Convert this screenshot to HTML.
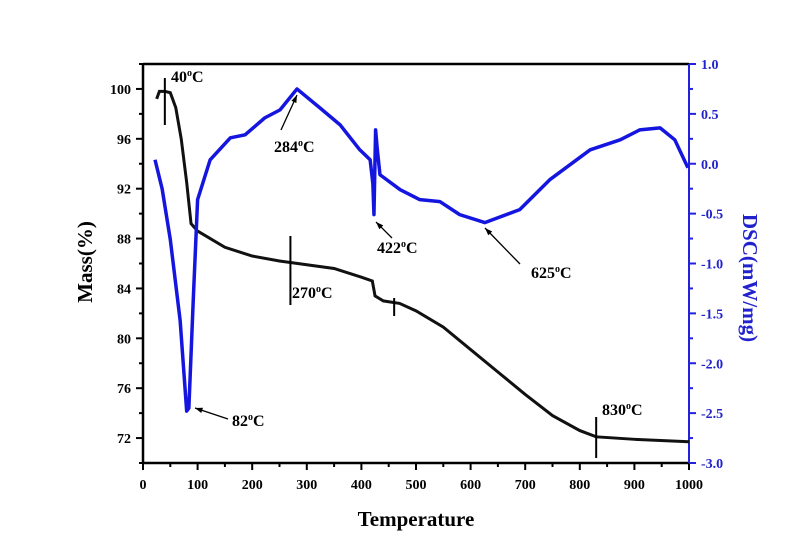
<!DOCTYPE html>
<html><head><meta charset="utf-8"><style>
body{margin:0;background:#fff}
svg text{font-family:"Liberation Serif",serif;font-weight:bold}
</style></head><body>
<svg width="800" height="555">
<g id="ax"></g><g id="marks"></g><g id="ann"></g>
</svg>
<script>
const xTicks=[0,100,200,300,400,500,600,700,800,900,1000];
const massTicks=[72,76,80,84,88,92,96,100];
const dscTicks=[-3.0,-2.5,-2.0,-1.5,-1.0,-0.5,0.0,0.5,1.0];
const massTemp=[25,30,40,50,60,70,80,88,100,150,200,250,300,350,400,420,425,440,470,500,550,600,650,700,750,800,830,900,1000];
const massVal=[99.2,99.8,99.8,99.7,98.5,96,92.5,89.2,88.6,87.3,86.6,86.2,85.9,85.6,84.9,84.6,83.4,83,82.8,82.2,80.9,79.1,77.3,75.5,73.8,72.6,72.1,71.9,71.7];
const dscTemp=[22,35,50,68,80,84,92,100,123,160,187,223,251,282,324,361,397,416,421,423,426,429,434,471,507,544,580,626,690,745,819,874,910,947,974,998];
const dscVal=[0.04,-0.25,-0.76,-1.57,-2.48,-2.45,-1.37,-0.36,0.04,0.26,0.29,0.46,0.54,0.75,0.56,0.39,0.14,0.04,-0.2,-0.51,0.34,0.15,-0.11,-0.26,-0.36,-0.38,-0.51,-0.59,-0.46,-0.16,0.14,0.24,0.34,0.36,0.24,-0.04];
const L=143,R=689,T=64,B=463;
const X=t=>L+(t)/1000*(R-L);
const YM=m=>B-(m-70)/32*(B-T);
const YD=d=>B-(d+3)/4*(B-T);
const NS="http://www.w3.org/2000/svg";
function mk(p,tag,a){const e=document.createElementNS(NS,tag);for(const k in a)e.setAttribute(k,a[k]);p.appendChild(e);return e;}
const ax=document.getElementById('ax'),mg=document.getElementById('marks'),an=document.getElementById('ann');
let e;
e=mk(ax,'line',{x1:L,y1:T,x2:R,y2:T,stroke:'#000','stroke-width':2.5});

e=mk(ax,'line',{x1:L,y1:T,x2:L,y2:B,stroke:'#000','stroke-width':2.5});

e=mk(ax,'line',{x1:L,y1:B,x2:R,y2:B,stroke:'#000','stroke-width':2.5});

e=mk(ax,'line',{x1:R,y1:T,x2:R,y2:B,stroke:'#2222dd','stroke-width':2});

xTicks.forEach((t,i)=>{
 mk(ax,'line',{x1:X(t),y1:B,x2:X(t),y2:B+7,stroke:'#000','stroke-width':2});
 if(i<xTicks.length-1)mk(ax,'line',{x1:X(t+50),y1:B,x2:X(t+50),y2:B+4,stroke:'#000','stroke-width':2});
 e=mk(ax,'text',{x:X(t),y:B+26,'text-anchor':'middle','font-size':14});e.textContent=t;
 
});
massTicks.forEach(m=>{
 mk(ax,'line',{x1:L-7,y1:YM(m),x2:L,y2:YM(m),stroke:'#000','stroke-width':2});
 mk(ax,'line',{x1:L-4,y1:YM(m+2),x2:L,y2:YM(m+2),stroke:'#000','stroke-width':2});
 e=mk(ax,'text',{x:L-12,y:YM(m)+5,'text-anchor':'end','font-size':14});e.textContent=m;
 
});
mk(ax,'line',{x1:L-4,y1:YM(70),x2:L,y2:YM(70),stroke:'#000','stroke-width':2});
dscTicks.forEach((d,i)=>{
 mk(ax,'line',{x1:R,y1:YD(d),x2:R+7,y2:YD(d),stroke:'#2222dd','stroke-width':2});
 if(i<dscTicks.length-1)mk(ax,'line',{x1:R,y1:YD(d+0.25),x2:R+4,y2:YD(d+0.25),stroke:'#2222dd','stroke-width':2});
 e=mk(ax,'text',{x:R+12,y:YD(d)+5,'font-size':14,fill:'#2222cc'});e.textContent=d.toFixed(1);
 
});
e=mk(ax,'text',{x:416,y:526,'text-anchor':'middle','font-size':21});e.textContent='Temperature';

e=mk(ax,'text',{x:0,y:0,'text-anchor':'middle','font-size':21,transform:'translate(92,262) rotate(-90)'});e.textContent='Mass(%)';

e=mk(ax,'text',{x:0,y:0,'text-anchor':'middle','font-size':21,fill:'#2222cc',transform:'translate(743,278) rotate(90)'});e.textContent='DSC(mW/mg)';

e=mk(mg,'polyline',{points:massTemp.map((t,i)=>X(t)+','+YM(massVal[i])).join(' '),fill:'none',stroke:'#111','stroke-width':3});

e=mk(mg,'polyline',{points:dscTemp.map((t,i)=>X(t)+','+YD(dscVal[i])).join(' '),fill:'none',stroke:'#1515e0','stroke-width':3.5,'stroke-linejoin':'round'});

// annotations
const vlines=[[40,78,125],[270,236,305],[460,298,316],[830,417,458]];
vlines.forEach(v=>{e=mk(an,'line',{x1:X(v[0]),y1:v[1],x2:X(v[0]),y2:v[2],stroke:'#000','stroke-width':2});
 });
function lab(x,y,s){e=mk(an,'text',{x:x,y:y,'font-size':16});
 e.innerHTML=s+'<tspan dy="-6" font-size="10">o</tspan><tspan dy="6">C</tspan>';
 }
lab(171,82,'40');lab(274,152,'284');lab(292,298,'270');lab(377,253,'422');lab(531,278,'625');lab(232,426,'82');lab(602,415,'830');
function arr(x1,y1,x2,y2){e=mk(an,'line',{x1:x1,y1:y1,x2:x2,y2:y2,stroke:'#000','stroke-width':1.3});
 
 const a=Math.atan2(y2-y1,x2-x1),s=8;
 mk(an,'polygon',{points:`${x2},${y2} ${x2-s*Math.cos(a-0.35)},${y2-s*Math.sin(a-0.35)} ${x2-s*Math.cos(a+0.35)},${y2-s*Math.sin(a+0.35)}`,fill:'#000'});}
arr(281,130,297,95);arr(392,238,376,222);arr(520,264,485,228);arr(228,419,195,408);
</script>
</body></html>
